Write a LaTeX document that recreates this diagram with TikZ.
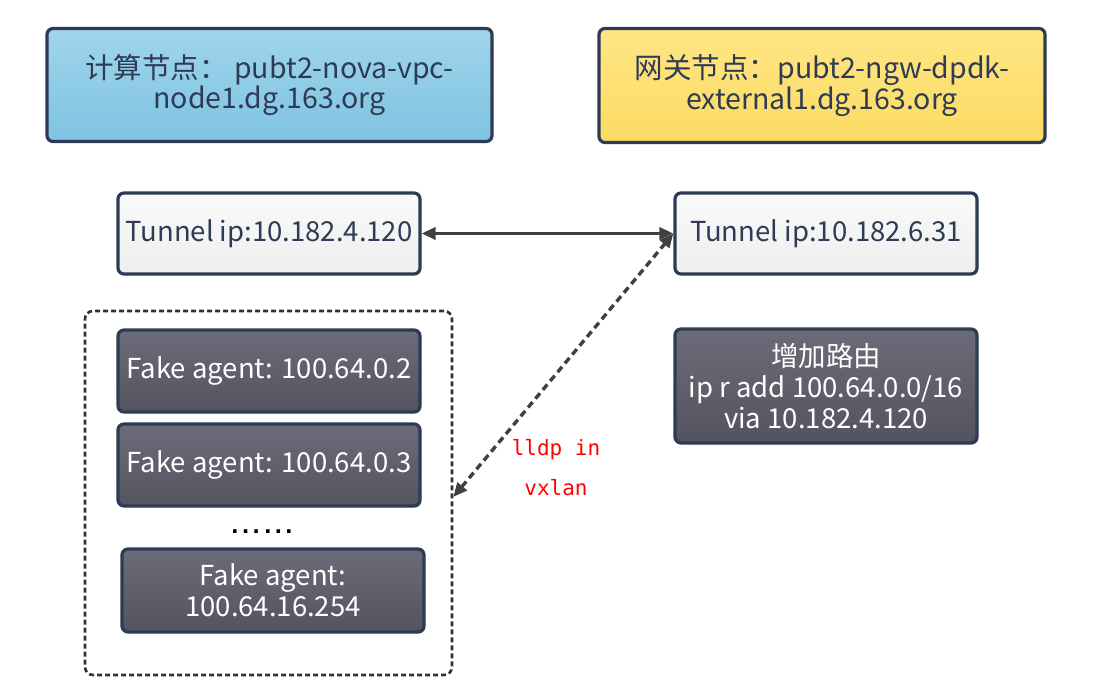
\documentclass[tikz,border=0pt]{standalone}
\usepackage{fontspec}
\setmainfont{Noto Sans CJK SC}
\newfontfamily\monofnt{DejaVu Sans Mono}
\newfontfamily\dotfnt{DejaVu Sans}
\usetikzlibrary{arrows.meta,shadows}
\definecolor{edge}{HTML}{2E3B55}
\definecolor{arrowc}{HTML}{404040}
\tikzset{
  base/.style={draw=edge, line width=3.2pt, rounded corners=6pt, align=center, inner sep=2pt,
    drop shadow={opacity=0.25, shadow xshift=1.5pt, shadow yshift=-1.5pt},
    font=\fontsize{27.5}{31}\selectfont},
  bigtext/.style={font=\fontsize{28.5}{29.5}\selectfont},
  bluebox/.style={base, bigtext, top color={rgb,255:red,160;green,213;blue,234}, bottom color={rgb,255:red,126;green,195;blue,226}, text=edge},
  yellowbox/.style={base, bigtext, top color={rgb,255:red,255;green,230;blue,133}, bottom color={rgb,255:red,252;green,219;blue,98}, text=edge},
  whitebox/.style={base, top color={rgb,255:red,250;green,250;blue,250}, bottom color={rgb,255:red,238;green,238;blue,238}, text=edge},
  darkbox/.style={base, top color={rgb,255:red,108;green,107;blue,121}, bottom color={rgb,255:red,84;green,84;blue,96}, text=white},
  group/.style={draw={rgb,255:red,50;green,50;blue,50}, line width=2.6pt, dash pattern=on 5pt off 3pt, rounded corners=8pt},
  conn/.style={draw=arrowc, line width=3.4pt, {Triangle[length=14pt,width=12pt]}-{Triangle[length=14pt,width=12pt]}},
  dconn/.style={conn, dash pattern=on 7pt off 4.5pt},
  lbl/.style={text=red, font=\monofnt\fontsize{21}{24}\selectfont}
}
\begin{document}
\begin{tikzpicture}[x=1pt,y=-1pt]
\useasboundingbox (0,0) rectangle (1101,700);
\node[bluebox, minimum width=445pt, minimum height=113pt] (cn) at (269.5,85) {计算节点：\ pubt2-nova-vpc-\\node1.dg.163.org};
\node[yellowbox, minimum width=446pt, minimum height=114pt] (gn) at (822,85.5) {网关节点：pubt2-ngw-dpdk-\\external1.dg.163.org};
\node[whitebox, minimum width=302pt, minimum height=81pt] (tl) at (269,233.5) {Tunnel ip:10.182.4.120};
\node[whitebox, minimum width=302pt, minimum height=81pt] (tr) at (826,233.5) {Tunnel ip:10.182.6.31};
\node[group, minimum width=367pt, minimum height=364pt] (grp) at (268.5,493) {};
\node[darkbox, minimum width=302pt, minimum height=82pt] (f1) at (269,371) {Fake agent: 100.64.0.2};
\node[darkbox, minimum width=302pt, minimum height=82pt] (f2) at (269,465) {Fake agent: 100.64.0.3};
\node[font=\dotfnt\bfseries\fontsize{20}{22}\selectfont, inner sep=0pt] (dots) at (262,532) {.\kern3pt.\kern3pt.\kern4pt.\kern3pt.\kern3pt.};
\node[darkbox, minimum width=302pt, minimum height=83pt] (f3) at (273,590.5) {Fake agent:\\100.64.16.254};
\node[darkbox, minimum width=302pt, minimum height=114pt] (rt) at (826,386) {增加路由\\ip r add 100.64.0.0/16\\via 10.182.4.120};
\draw[conn] (tl.east) -- (tr.west);
\coordinate (gE) at ([yshift=-4pt]grp.east);
\draw[dconn] (gE) -- (tr.west);
\node[lbl] (l1) at (556,450) {lldp in};
\node[lbl] (l2) at (556,488) {vxlan};
\end{tikzpicture}
\end{document}
